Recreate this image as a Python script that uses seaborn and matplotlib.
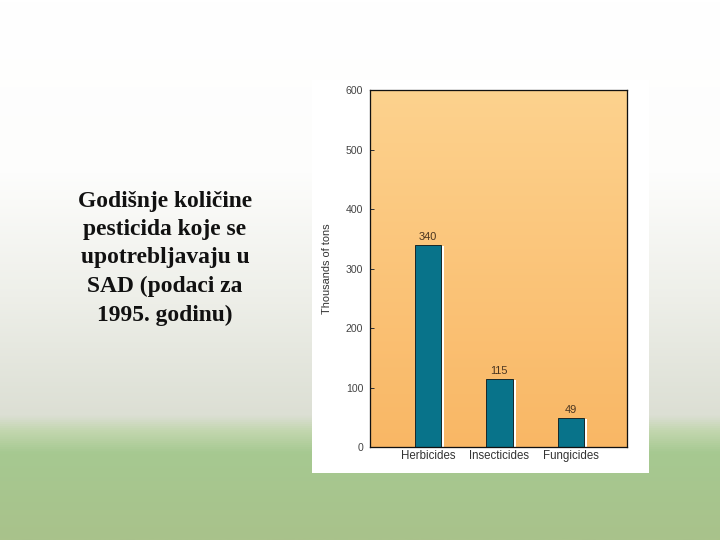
import matplotlib
matplotlib.use("Agg")
import matplotlib.pyplot as plt
import matplotlib.patheffects as pe
from matplotlib.colors import LinearSegmentedColormap
import numpy as np
import pandas as pd
import seaborn as sns

categories = ["Herbicides", "Insecticides", "Fungicides"]
values = [340, 115, 49]
y_ticks = [0, 100, 200, 300, 400, 500, 600]
title_text = "Godišnje količine\npesticida koje se\nupotrebljavaju u\nSAD (podaci za\n1995. godinu)"

df = pd.DataFrame({"type": categories, "tons": values})

sns.set_style("ticks")
fig = plt.figure(figsize=(10, 7.5), dpi=72)

# slide background: white fading to grey, then green at the bottom
bg = fig.add_axes([0, 0, 1, 1], zorder=-10)
slide_cmap = LinearSegmentedColormap.from_list(
    "slide", [(0.0, "#ffffff"), (0.32, "#fdfdfc"), (0.55, "#eeefe9"), (0.77, "#dcdfd4"),
              (0.80, "#c2d6ae"), (0.84, "#a6c991"), (1.0, "#a9c28b")])
grad = np.linspace(0, 1, 512).reshape(-1, 1)
bg.imshow(grad, cmap=slide_cmap, aspect="auto", extent=[0, 1, 0, 1])
bg.axis("off")

# white panel behind the chart picture
fig.patches.append(plt.Rectangle((0.433, 0.124), 0.469, 0.728, transform=fig.transFigure,
                                 facecolor="white", edgecolor="none", zorder=-5))

ax = fig.add_axes([0.514, 0.172, 0.357, 0.661])
peach = LinearSegmentedColormap.from_list("peach", ["#f9b765", "#fdd28e"])
ax.imshow(grad, cmap=peach, aspect="auto", extent=[0, 1, 0, 1],
          transform=ax.transAxes, origin="lower", zorder=0)

sns.barplot(data=df, x="type", y="tons", color="#08738a", width=0.37,
            edgecolor="#1a2a2a", linewidth=1.0, saturation=1, ax=ax, zorder=2)
for bar in ax.patches:
    bar.set_path_effects([pe.SimplePatchShadow(offset=(3, -1), shadow_rgbFace="white", alpha=1.0),
                          pe.Normal()])

for i, v in enumerate(values):
    ax.text(i, v + 5, str(v), ha="center", va="bottom", fontsize=11, color="#4a3520",
            family="Liberation Sans", zorder=3)

ax.set_xlim(-0.81, 2.79)
ax.set_ylim(0, 600)
ax.set_yticks(y_ticks)
ax.set_ylabel("Thousands of tons", fontsize=11, color="#333333", family="Liberation Sans", labelpad=14)
ax.set_xlabel("")
ax.tick_params(axis="y", direction="in", length=4, width=1, color="#333333", labelsize=10.5,
               labelcolor="#444444", pad=7)
ax.tick_params(axis="x", length=0, labelsize=11.5, labelcolor="#333333", pad=3)
for lab in ax.get_xticklabels() + ax.get_yticklabels():
    lab.set_family("Liberation Sans")
for sp in ax.spines.values():
    sp.set_visible(True)
    sp.set_color("#111111")
    sp.set_linewidth(1.3)

fig.text(0.229, 0.522, title_text, ha="center", va="center", fontsize=23.5, fontweight="bold",
         family="Liberation Serif", color="#111111", linespacing=1.46)

plt.savefig("out.png", dpi=72)
plt.close()
